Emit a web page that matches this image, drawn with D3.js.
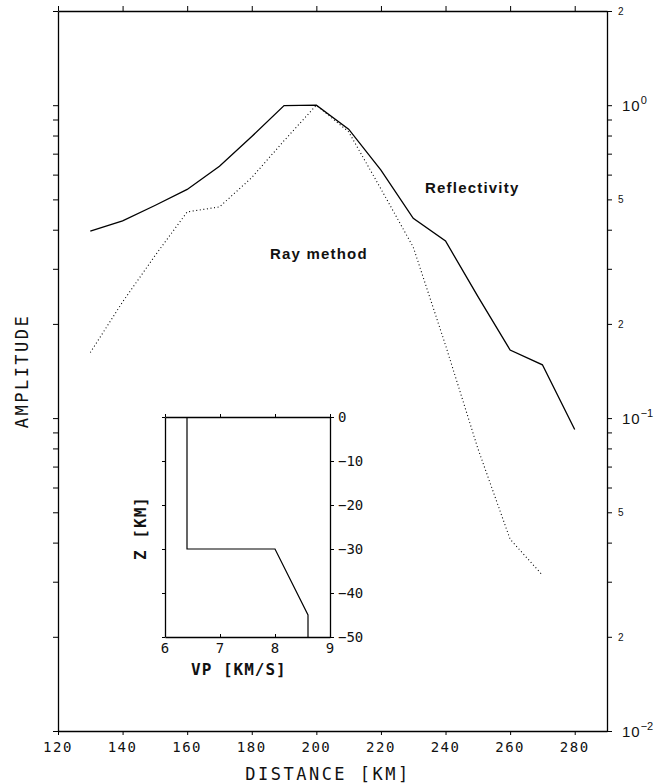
<!DOCTYPE html>
<html><head><meta charset="utf-8">
<script src="https://cdn.jsdelivr.net/npm/d3@7"></script>
<style>
html,body{margin:0;padding:0;background:#fff;}
svg{display:block;}
text{fill:#111;}
</style></head>
<body>
<svg id="c" width="665" height="783"></svg>
<script>
// ---- data ----
const reflDistance = [130,140,150,160,170,180,190,200,210,220,230,240,250,260,270,280];
const reflectivity = [0.396,0.427,0.478,0.538,0.638,0.794,0.997,1.0,0.838,0.62,0.435,0.368,0.245,0.165,0.148,0.092];
const rayDistance = [130,140,150,160,170,180,190,200,210,220,230,240,250,260,270];
const rayMethod = [0.162,0.235,0.33,0.456,0.473,0.587,0.77,1.0,0.822,0.54,0.352,0.171,0.08,0.041,0.0315];
const xTicks = [120,140,160,180,200,220,240,260,280];
const yLabelTicks = [2,1,0.5,0.2,0.1,0.05,0.02,0.01];
const yLabelText = ["2","10|0","5","2","10|-1","5","2","10|-2"];
// inset velocity model
const vp = [6.4,6.4,8.0,8.6,8.6];
const depth = [0,-30,-30,-45,-50];
const vpTicks = [6,7,8,9];
const zTicks = [0,-10,-20,-30,-40,-50];

const svg = d3.select("#c");
const L=58,R=607,T=11,B=731;
const x = d3.scaleLinear().domain([120,290]).range([L,R]);
const y = d3.scaleLog().domain([0.01,2]).range([B,T]);

// minor log ticks
const minor=[];
[0.01,0.1,1].forEach(d=>{for(let k=1;k<=9;k++){const v=d*k; if(v<=2.0001) minor.push(v);}});
minor.push(2);

const axisStyle = g=>{g.select(".domain").attr("stroke","#000").attr("stroke-width",1.3);
  g.selectAll(".tick line").attr("stroke","#000").attr("stroke-width",1);
  g.selectAll(".tick text").remove();};

svg.append("g").attr("transform",`translate(0,${B})`)
  .call(d3.axisBottom(x).tickValues(xTicks).tickSize(4).tickSizeOuter(0)).call(axisStyle);
svg.append("g").attr("transform",`translate(0,${T})`)
  .call(d3.axisTop(x).tickValues(xTicks).tickSize(5).tickSizeOuter(0)).call(axisStyle);
svg.append("g").attr("transform",`translate(${L},0)`)
  .call(d3.axisLeft(y).tickValues(minor).tickSize(5).tickSizeOuter(0)).call(axisStyle);
svg.append("g").attr("transform",`translate(${R},0)`)
  .call(d3.axisRight(y).tickValues(minor).tickSize(5).tickSizeOuter(0)).call(axisStyle);

// x tick labels
svg.append("g").selectAll("text").data(xTicks).join("text")
  .attr("x",d=>x(d)).attr("y",B+21).attr("text-anchor","middle")
  .attr("font-family","DejaVu Sans Mono").attr("font-size",14).attr("letter-spacing",1.5)
  .attr("fill","#222").text(d=>d);

// y tick labels (right)
const yl = svg.append("g");
yLabelTicks.forEach((v,i)=>{
  const s=yLabelText[i];
  if(s.includes("|")){
    const [b,e]=s.split("|");
    const t=yl.append("text").attr("x",R+15).attr("y",y(v)+6)
      .attr("font-family","Liberation Sans").attr("font-size",15).attr("fill","#222");
    t.append("tspan").text(b).attr("letter-spacing",1);
    t.append("tspan").text(e.replace("-","\u2212")).attr("font-size",11).attr("dy",-7);
  } else {
    yl.append("text").attr("x",R+11).attr("y",y(v)+4)
      .attr("font-family","Liberation Sans").attr("font-size",10).attr("fill","#222").text(s);
  }
});

// lines
const line = d3.line();
svg.append("path").datum(reflDistance.map((d,i)=>[x(d),y(reflectivity[i])]))
  .attr("d",line).attr("fill","none").attr("stroke","#000").attr("stroke-width",1.3);
svg.append("path").datum(rayDistance.map((d,i)=>[x(d),y(rayMethod[i])]))
  .attr("d",line).attr("fill","none").attr("stroke","#000").attr("stroke-width",1.1)
  .attr("stroke-dasharray","1,2.6");

// annotations
svg.append("text").attr("x",425).attr("y",193).attr("font-family","Liberation Sans")
  .attr("font-size",15).attr("letter-spacing",1.2).attr("font-weight","bold").attr("fill","#111").text("Reflectivity");
svg.append("text").attr("x",270).attr("y",259).attr("font-family","Liberation Sans")
  .attr("font-size",15).attr("letter-spacing",1.2).attr("font-weight","bold").attr("fill","#111").text("Ray method");

// axis titles
svg.append("text").attr("x",328).attr("y",780).attr("text-anchor","middle")
  .attr("font-family","DejaVu Sans Mono").attr("font-size",17).attr("letter-spacing",2.5)
  .attr("fill","#111").text("DISTANCE [KM]");
svg.append("text").attr("transform","translate(28,371) rotate(-90)").attr("text-anchor","middle")
  .attr("font-family","DejaVu Sans Mono").attr("font-size",17).attr("letter-spacing",2.5)
  .attr("fill","#111").text("AMPLITUDE");

// ---- inset ----
const iL=165,iR=330,iT=417,iB=637;
const xi = d3.scaleLinear().domain([6,9]).range([iL,iR]);
const yi = d3.scaleLinear().domain([0,-50]).range([iT,iB]);
const ins = svg.append("g");
ins.append("g").attr("transform",`translate(0,${iB})`)
  .call(d3.axisBottom(xi).tickValues(vpTicks).tickSize(-3).tickSizeOuter(0)).call(axisStyle);
ins.append("g").attr("transform",`translate(0,${iT})`)
  .call(d3.axisTop(xi).tickValues(vpTicks).tickSize(3).tickSizeOuter(0)).call(axisStyle);
ins.append("g").attr("transform",`translate(${iL},0)`)
  .call(d3.axisLeft(yi).tickValues(zTicks).tickSize(3).tickSizeOuter(0)).call(axisStyle);
ins.append("g").attr("transform",`translate(${iR},0)`)
  .call(d3.axisRight(yi).tickValues(zTicks).tickSize(4).tickSizeOuter(0)).call(axisStyle);
ins.append("g").selectAll("text").data(vpTicks).join("text")
  .attr("x",d=>xi(d)).attr("y",iB+16).attr("text-anchor","middle")
  .attr("font-family","DejaVu Sans Mono").attr("font-size",14).attr("fill","#222").text(d=>d);
ins.append("g").selectAll("text").data(zTicks).join("text")
  .attr("x",iR+8).attr("y",d=>yi(d)+5)
  .attr("font-family","DejaVu Sans Mono").attr("font-size",14).attr("fill","#222")
  .text(d=>d===0?"0":"\u2212"+Math.abs(d));
ins.append("path").datum(vp.map((d,i)=>[xi(d),yi(depth[i])]))
  .attr("d",line).attr("fill","none").attr("stroke","#000").attr("stroke-width",1.2);
ins.append("text").attr("x",191).attr("y",675)
  .attr("font-family","DejaVu Sans Mono").attr("font-size",16).attr("font-weight","bold").attr("letter-spacing",1)
  .attr("fill","#111").text("VP  [KM/S]");
ins.append("text").attr("transform","translate(146,528) rotate(-90)").attr("text-anchor","middle")
  .attr("font-family","DejaVu Sans Mono").attr("font-size",16).attr("font-weight","bold").attr("letter-spacing",1)
  .attr("fill","#111").text("Z  [KM]");
</script>
</body></html>
